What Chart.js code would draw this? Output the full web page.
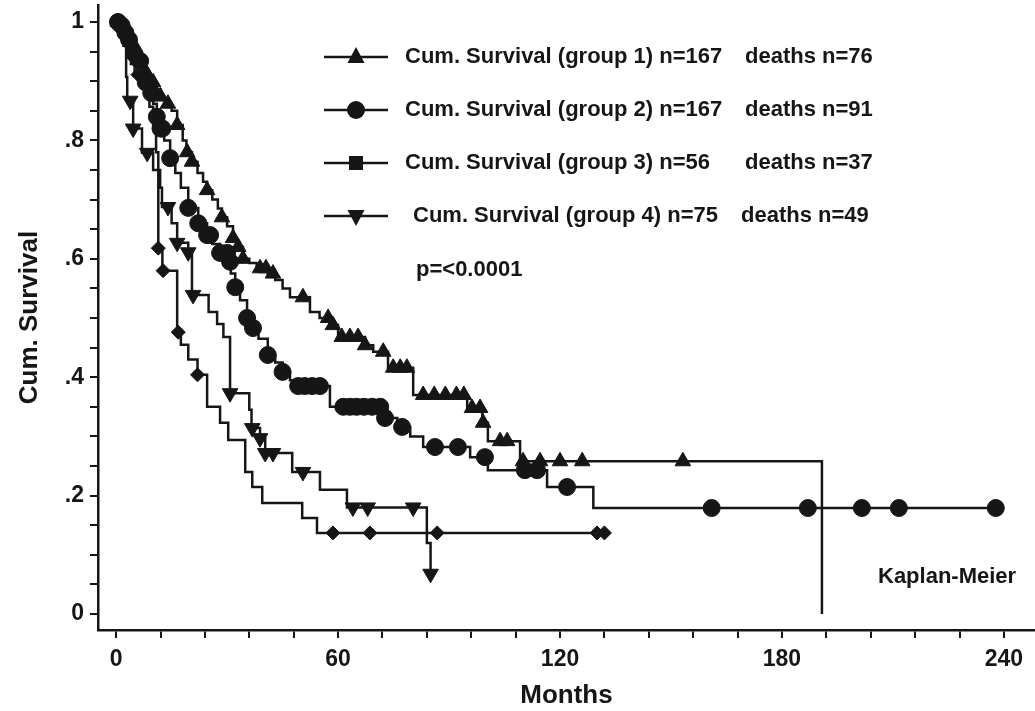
<!DOCTYPE html>
<html>
<head>
<meta charset="utf-8">
<title>Cum. Survival</title>
<script src="https://cdn.jsdelivr.net/npm/chart.js@4.4.1/dist/chart.umd.min.js"></script>
<style>
  html, body { margin: 0; padding: 0; background: #fff; }
  #wrap { width: 1035px; height: 711px; }
</style>
</head>
<body>
<div id="wrap"><canvas id="km" width="1035" height="711"></canvas></div>
<script>
// Axis ticks
const xTickMarks = [0, 12, 24, 36, 48, 60, 72, 84, 96, 108, 120, 132, 144, 156, 168, 180, 192, 204, 216, 228, 240];
const xTickLabels = [0, 60, 120, 180, 240];
const yTickMarks = [0, 0.05, 0.1, 0.15, 0.2, 0.25, 0.3, 0.35, 0.4, 0.45, 0.5, 0.55, 0.6, 0.65, 0.7, 0.75, 0.8, 0.85, 0.9, 0.95, 1];
const yTickValues = [0, 0.2, 0.4, 0.6, 0.8, 1];
const yTickText = ['0', '.2', '.4', '.6', '.8', '1'];

// Group 1 (triangles): step times (months) and survival after each step
const g1Time = [0, 1, 2, 3, 4, 5, 6, 7, 8, 9, 10, 11, 12, 13, 14, 15, 16.5, 18, 19, 20.5, 22, 23.5, 24.6, 26, 27.5, 28.6, 30, 31.6, 32.5, 34.3, 36, 38, 41, 43, 45, 47, 52.4, 55, 57.8, 60, 67.3, 69.5, 73.5, 80.3, 94.9, 99, 100.5, 109.2, 190.8];
const g1Surv = [1, 0.994, 0.988, 0.976, 0.964, 0.952, 0.94, 0.928, 0.916, 0.904, 0.898, 0.886, 0.874, 0.868, 0.862, 0.85, 0.826, 0.8, 0.78, 0.764, 0.745, 0.73, 0.716, 0.7, 0.685, 0.67, 0.655, 0.635, 0.62, 0.6, 0.593, 0.584, 0.575, 0.564, 0.55, 0.535, 0.51, 0.5, 0.488, 0.468, 0.454, 0.443, 0.416, 0.37, 0.348, 0.323, 0.292, 0.258, 0];
const g1Censor = [0.5, 1.5, 2.5, 3.5, 4.5, 6, 8, 10, 12, 14, 16.5, 19.2, 20.5, 24.6, 28.6, 31.6, 33, 34.3, 38.9, 40.5, 42.4, 50.5, 57.3, 58.6, 61, 63.2, 65.4, 67.3, 72.2, 74.9, 76.8, 78.6, 83, 86, 89, 92, 94, 96.2, 98.4, 99.2, 103.8, 105.7, 110, 114.6, 120, 126, 153.2];

// Group 2 (circles)
const g2Time = [0, 1, 2, 3, 4, 5, 6, 7, 8, 9, 10, 11, 12, 13, 14.6, 16, 17.5, 19.5, 22.2, 24.6, 26, 28.1, 30.3, 31, 32.2, 33.5, 35.4, 37, 38.5, 41, 43, 45, 47, 49, 57.8, 72.7, 76, 79.5, 83, 95.7, 100.5, 116.5, 129, 238];
const g2Surv = [1, 0.994, 0.982, 0.97, 0.958, 0.946, 0.934, 0.916, 0.898, 0.88, 0.862, 0.84, 0.82, 0.8, 0.77, 0.745, 0.72, 0.686, 0.66, 0.64, 0.625, 0.61, 0.595, 0.575, 0.552, 0.53, 0.5, 0.483, 0.465, 0.4375, 0.425, 0.409, 0.395, 0.385, 0.35, 0.331, 0.316, 0.3, 0.282, 0.265, 0.243, 0.2145, 0.179, 0.179];
const g2Censor = [0.5, 1.5, 2.5, 3.5, 5, 6.5, 8, 9.5, 11, 12, 12.5, 14.6, 19.5, 22.2, 24.6, 25.4, 28.1, 30, 30.8, 32.2, 35.4, 37, 41, 45, 49.2, 51, 53, 55.1, 61.4, 63.2, 65, 67, 69.2, 71.4, 72.7, 77.3, 86.2, 92.4, 99.7, 110.5, 113.8, 121.9, 161, 187, 201.6, 211.6, 237.8];

// Group 3 (diamonds)
const g3Time = [0, 1, 2, 3, 4, 5, 7, 8, 9, 10, 10.8, 11.4, 12.5, 16.5, 17.5, 19.5, 22, 24.6, 28.1, 30.3, 34.9, 36.8, 39.5, 50.3, 54.3, 133.5];
const g3Surv = [1, 0.982, 0.964, 0.946, 0.929, 0.911, 0.893, 0.875, 0.857, 0.82, 0.78, 0.618, 0.58, 0.476, 0.455, 0.43, 0.404, 0.35, 0.323, 0.294, 0.24, 0.2145, 0.1875, 0.162, 0.137, 0.137];
const g3Censor = [5.9, 11.4, 12.7, 16.8, 22, 58.6, 68.6, 86.8, 130, 132];

// Group 4 (down triangles)
const g4Time = [0, 1, 2, 2.7, 3, 4.6, 7, 10, 11.9, 12.4, 15, 16.5, 19.5, 20.5, 25, 27.3, 29, 30.8, 36, 36.6, 38.9, 40.3, 47.6, 55.1, 62.4, 84, 85];
const g4Surv = [1, 0.987, 0.96, 0.907, 0.867, 0.82, 0.779, 0.75, 0.72, 0.6875, 0.66, 0.627, 0.611, 0.539, 0.51, 0.49, 0.468, 0.373, 0.345, 0.314, 0.297, 0.272, 0.24, 0.21, 0.18, 0.12, 0.068];
const g4Censor = [3.8, 4.6, 8.4, 14, 16.5, 19.5, 20.8, 30.8, 36.8, 38.9, 40.3, 42.4, 50.5, 64, 68, 80.3, 85];

const ink = '#161616';

function stepPoints(times, surv) {
    return times.map((t, i) => ({ x: t, y: surv[i] }));
}

// survival level at a censoring time, read from the step series
function levelAt(times, surv, t) {
    let s = surv[0];
    for (let i = 0; i < times.length; i++) {
        if (times[i] <= t) s = surv[i];
    }
    return s;
}

function censorPoints(times, surv, censor) {
    return censor.map(t => ({ x: t, y: levelAt(times, surv, t) }));
}

function lineSet(times, surv) {
    return {
        data: stepPoints(times, surv),
        showLine: true,
        stepped: 'before',
        borderColor: ink,
        borderWidth: 2.5,
        pointRadius: 0,
        fill: false
    };
}

function markSet(times, surv, censor, style, radius, rotation) {
    return {
        data: censorPoints(times, surv, censor),
        showLine: false,
        pointStyle: style,
        pointRadius: radius,
        pointRotation: rotation,
        pointBackgroundColor: ink,
        pointBorderColor: ink,
        pointBorderWidth: 1
    };
}

// Legend rows and notes drawn on the canvas
const legendRows = [
    { label: 'Cum. Survival (group 1) n=167', deaths: 'deaths n=76', marker: 'up', y: 57, lx: 405, dx: 745 },
    { label: 'Cum. Survival (group 2) n=167', deaths: 'deaths n=91', marker: 'circle', y: 110, lx: 405, dx: 745 },
    { label: 'Cum. Survival (group 3) n=56', deaths: 'deaths n=37', marker: 'square', y: 163, lx: 405, dx: 745 },
    { label: 'Cum. Survival (group 4) n=75', deaths: 'deaths n=49', marker: 'down', y: 216, lx: 413, dx: 741 }
];

function drawMarker(ctx, kind, x, y) {
    ctx.beginPath();
    if (kind === 'up') {
        ctx.moveTo(x, y - 10); ctx.lineTo(x + 8.5, y + 6); ctx.lineTo(x - 8.5, y + 6);
    } else if (kind === 'down') {
        ctx.moveTo(x, y + 10); ctx.lineTo(x + 8.5, y - 6); ctx.lineTo(x - 8.5, y - 6);
    } else if (kind === 'circle') {
        ctx.arc(x, y, 9, 0, Math.PI * 2);
    } else {
        ctx.rect(x - 7, y - 7, 14, 14);
    }
    ctx.closePath();
    ctx.fill();
}

const notesPlugin = {
    id: 'notes',
    afterDraw(chart) {
        const ctx = chart.ctx;
        ctx.save();
        ctx.fillStyle = ink;
        ctx.strokeStyle = ink;
        ctx.lineWidth = 2.5;
        ctx.textBaseline = 'middle';
        ctx.textAlign = 'left';
        ctx.font = 'bold 22px "Liberation Sans", Arial, sans-serif';
        legendRows.forEach(row => {
            ctx.beginPath();
            ctx.moveTo(324, row.y);
            ctx.lineTo(388, row.y);
            ctx.stroke();
            drawMarker(ctx, row.marker, 356, row.y);
            ctx.fillText(row.label, row.lx, row.y);
            ctx.fillText(row.deaths, row.dx, row.y);
        });
        ctx.fillText('p=<0.0001', 416, 270);
        ctx.fillText('Kaplan-Meier', 878, 577);
        ctx.restore();
    }
};

const tickFont = { family: '"Liberation Sans", Arial, sans-serif', size: 23, weight: 'bold' };
const titleFont = { family: '"Liberation Sans", Arial, sans-serif', size: 26, weight: 'bold' };

new Chart(document.getElementById('km'), {
    type: 'scatter',
    data: {
        datasets: [
            lineSet(g1Time, g1Surv),
            lineSet(g2Time, g2Surv),
            lineSet(g3Time, g3Surv),
            lineSet(g4Time, g4Surv),
            markSet(g1Time, g1Surv, g1Censor, 'triangle', 9, 0),
            markSet(g2Time, g2Surv, g2Censor, 'circle', 8.5, 0),
            markSet(g3Time, g3Surv, g3Censor, 'rectRot', 7, 0),
            markSet(g4Time, g4Surv, g4Censor, 'triangle', 9, 180)
        ]
    },
    options: {
        responsive: false,
        animation: false,
        devicePixelRatio: 1,
        layout: { autoPadding: false, padding: { top: 5, right: 0, left: 0, bottom: 0 } },
        plugins: {
            legend: { display: false },
            tooltip: { enabled: false }
        },
        scales: {
            x: {
                type: 'linear',
                min: -4.9,
                max: 248.4,
                afterBuildTicks: scale => { scale.ticks = xTickMarks.map(v => ({ value: v })); },
                afterFit: scale => {
                    scale.height = 81;
                    scale.paddingLeft = 0;
                    scale.paddingRight = 0;
                },
                border: { display: true, color: ink, width: 2.5 },
                grid: { drawOnChartArea: false, drawTicks: true, tickLength: 8, color: ink, lineWidth: 2 },
                ticks: {
                    autoSkip: false,
                    maxRotation: 0,
                    color: ink,
                    font: tickFont,
                    padding: 8,
                    callback: v => (xTickLabels.includes(v) ? String(v) : '')
                },
                title: { display: true, text: 'Months', color: ink, font: titleFont, padding: { top: 2, bottom: 0 } }
            },
            y: {
                type: 'linear',
                min: -0.027,
                max: 1.0287,
                afterBuildTicks: scale => { scale.ticks = yTickMarks.map(v => ({ value: v })); },
                afterFit: scale => {
                    scale.width = 98;
                    scale.paddingTop = 0;
                    scale.paddingBottom = 0;
                },
                border: { display: true, color: ink, width: 2.5 },
                grid: { drawOnChartArea: false, drawTicks: true, tickLength: 8, color: ink, lineWidth: 2 },
                ticks: {
                    autoSkip: false,
                    color: ink,
                    font: tickFont,
                    padding: 6,
                    callback: v => {
                        const k = yTickValues.findIndex(t => Math.abs(t - v) < 1e-6);
                        return k >= 0 ? yTickText[k] : '';
                    }
                },
                title: { display: true, text: 'Cum. Survival', color: ink, font: titleFont, padding: { top: 14, bottom: 0 } }
            }
        }
    },
    plugins: [notesPlugin]
});
</script>
</body>
</html>
